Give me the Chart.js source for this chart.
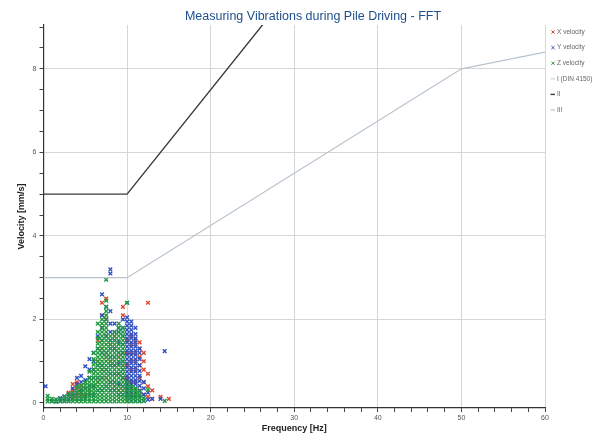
<!DOCTYPE html>
<html><head><meta charset="utf-8">
<script src="https://cdn.jsdelivr.net/npm/chart.js@4.4.0/dist/chart.umd.min.js"></script>
<style>html,body{margin:0;padding:0;background:#fff}#wrap{width:595px;height:437px}</style>
</head><body><div id="wrap"><canvas id="c" width="595" height="437"></canvas></div>
<script>
const chartTitle = 'Measuring Vibrations during Pile Driving - FFT';
const xAxisTitle = 'Frequency [Hz]';
const yAxisTitle = 'Velocity [mm/s]';
const seriesNames = ['X velocity', 'Y velocity', 'Z velocity', 'I (DIN 4150)', 'II', 'III'];
const xTickValues = [0,2,4,6,8,10,12,14,16,18,20,22,24,26,28,30,32,34,36,38,40,42,44,46,48,50,52,54,56,58,60];
const xTickLabels = [0,10,20,30,40,50,60];
const yTickValues = [0,0.5,1,1.5,2,2.5,3,3.5,4,4.5,5,5.5,6,6.5,7,7.5,8,8.5,9];
const yTickLabels = [0,2,4,6,8];

// FFT snapshot columns: [frequency Hz, velocities mm/s ...]
const xVelocity = [
  [3.0, 0.1,0.25],
  [3.5, 0.15,0.3,0.45],
  [4.0, 0.2,0.35,0.5],
  [4.5, 0.2,0.4],
  [5.0, 0.2,0.5],
  [5.5, 0.3,0.6],
  [6.0, 0.4,0.8],
  [6.5, 0.5,1.0,1.5],
  [7.0, 0.8,1.3,1.8,2.1,2.4],
  [7.5, 0.6,1.1,1.6,2.0,2.5],
  [8.0, 0.5,1.0,1.4],
  [8.5, 0.4,0.9,1.3,1.6],
  [9.0, 0.3,0.7,1.1],
  [9.5, 0.3,0.6,0.9,1.2,2.1,2.3],
  [10.0, 0.3,0.6,0.9,1.2,1.5],
  [10.5, 0.2,0.5,0.8,1.0,1.2,1.4,1.6],
  [11.0, 0.2,0.5,0.8,1.0,1.2,1.4,1.5],
  [11.5, 0.3,0.6,0.9,1.1,1.3,1.45],
  [12.0, 0.2,0.5,0.8,1.0,1.2],
  [12.5, 0.15,0.4,0.7,2.4],
  [13.0, 0.1,0.3],
  [14.0, 0.15],
  [15.0, 0.1]
];
const yVelocity = [
  [0.25, 0.4],
  [1.0, 0.05],
  [1.5, 0.03],
  [2.0, 0.05,0.12],
  [2.5, 0.05,0.15],
  [3.0, 0.08,0.2],
  [3.5, 0.1,0.2,0.35],
  [4.0, 0.1,0.25,0.45,0.6],
  [4.5, 0.1,0.3,0.5,0.65],
  [5.0, 0.15,0.35,0.55,0.88],
  [5.5, 0.2,0.4,0.6,0.8,1.05],
  [6.0, 0.2,0.4,0.6,0.8,1.0,1.2],
  [6.5, 0.3,0.6,0.9,1.3,1.6],
  [7.0, 0.3,0.6,0.9,1.2,1.5,1.8,2.1,2.6],
  [7.5, 0.4,0.8,1.2,1.6,2.0,2.3],
  [8.0, 0.3,0.5,0.7,0.9,1.1,1.3,1.5,1.7,1.9,2.2,3.1,3.2],
  [8.5, 0.3,0.5,0.7,0.9,1.1,1.3,1.5,1.7,1.9],
  [9.0, 0.2,0.45,0.7,0.95,1.2,1.45,1.7,1.8],
  [9.5, 0.2,0.4,0.6,0.8,1.0,1.2,1.4,1.6,1.8,2.0],
  [10.0, 0.05,0.15,0.25,0.35,0.45,0.55,0.65,0.75,0.85,0.95,1.05,1.15,1.25,1.35,1.45,1.55,1.65,1.75,1.85,1.95,2.05,2.4],
  [10.5, 0.05,0.15,0.25,0.35,0.45,0.55,0.65,0.75,0.85,0.95,1.05,1.15,1.25,1.35,1.45,1.55,1.65,1.75,1.85,1.95],
  [11.0, 0.05,0.15,0.25,0.35,0.45,0.55,0.65,0.75,0.85,0.95,1.05,1.15,1.25,1.35,1.45,1.55,1.65,1.8],
  [11.5, 0.05,0.17,0.29,0.41,0.53,0.65,0.77,0.9,1.05,1.2,1.3],
  [12.0, 0.05,0.2,0.35,0.5],
  [12.5, 0.08,0.25],
  [13.0, 0.1],
  [14.0, 0.1],
  [14.5, 1.24]
];
const zVelocity = [
  [0.5, 0.04,0.1,0.17],
  [1.0, 0.04,0.1],
  [1.5, 0.03,0.09],
  [2.0, 0.04,0.1],
  [2.5, 0.04,0.1,0.16],
  [3.0, 0.04,0.1,0.17,0.22],
  [3.5, 0.04,0.1,0.17,0.25],
  [4.0, 0.04,0.1,0.17,0.25,0.33,0.4],
  [4.5, 0.04,0.1,0.17,0.25,0.33,0.42],
  [5.0, 0.04,0.1,0.17,0.25,0.33,0.42,0.5],
  [5.5, 0.04,0.1,0.17,0.25,0.33,0.42,0.5,0.6,0.75],
  [6.0, 0.04,0.1,0.17,0.25,0.33,0.42,0.5,0.6,0.7,0.8,0.92,1.05,1.2],
  [6.5, 0.04,0.12,0.2,0.3,0.4,0.5,0.6,0.7,0.8,0.9,1.0,1.1,1.2,1.3,1.42,1.55,1.7,1.9],
  [7.0, 0.04,0.12,0.2,0.3,0.4,0.5,0.6,0.7,0.8,0.9,1.0,1.1,1.2,1.3,1.4,1.5,1.6,1.7,1.8,1.9,2.0],
  [7.5, 0.04,0.12,0.2,0.3,0.4,0.5,0.6,0.7,0.8,0.9,1.0,1.1,1.2,1.3,1.4,1.5,1.6,1.7,1.8,1.9,2.0,2.1,2.2,2.3,2.45,2.95],
  [8.0, 0.04,0.12,0.2,0.3,0.4,0.5,0.6,0.7,0.8,0.9,1.0,1.1,1.2,1.3,1.4,1.5,1.6],
  [8.5, 0.04,0.12,0.2,0.3,0.4,0.5,0.6,0.7,0.8,0.9,1.0,1.1,1.2,1.3,1.4,1.5,1.6,1.7],
  [9.0, 0.04,0.12,0.2,0.3,0.4,0.5,0.6,0.7,0.8,0.9,1.0,1.1,1.2,1.3,1.4,1.5,1.6,1.7,1.8,1.9],
  [9.5, 0.04,0.12,0.2,0.3,0.4,0.5,0.6,0.7,0.8,0.9,1.0,1.1,1.2,1.3,1.4,1.5,1.6,1.7,1.8],
  [10.0, 0.04,0.12,0.2,0.3,0.4,0.5,2.4],
  [10.5, 0.04,0.12,0.2,0.3,0.4],
  [11.0, 0.04,0.12,0.2,0.3,0.35],
  [11.5, 0.04,0.12,0.2,0.28],
  [12.0, 0.05,0.12],
  [12.5, 0.32],
  [14.5, 0.05]
];
// DIN 4150-3 reference lines [frequency, velocity]
const dinLineI = [[0,20],[10,20],[50,40],[60,42]];
const dinLineII = [[0,5],[10,5],[50,15],[60,16]];
const dinLineIII = [[0,3],[10,3],[50,8],[60,8.4]];

const seriesColors = ['#e0452e', '#2e50c0', '#1f9a3e', '#c9c9c9', '#3b3b3b', '#b8c2cc'];

function columnsToPoints(cols) {
  const pts = [];
  cols.forEach(c => { for (let i = 1; i < c.length; i++) pts.push({x: c[0], y: c[i]}); });
  return pts;
}
function pairsToPoints(p) { return p.map(a => ({x: a[0], y: a[1]})); }

const FONT = '"Liberation Sans", Arial, sans-serif';

const titlePlugin = {
  id: 'offsetTitle',
  afterDraw(chart) {
    const ctx = chart.ctx;
    ctx.save();
    ctx.font = '12.5px ' + FONT;
    ctx.fillStyle = '#1e4f8c';
    ctx.textAlign = 'center';
    ctx.textBaseline = 'middle';
    ctx.fillText(chartTitle, 313, 17);
    ctx.restore();
  }
};

const legendPlugin = {
  id: 'sideLegend',
  afterDraw(chart) {
    const ctx = chart.ctx;
    ctx.save();
    ctx.font = '6.5px ' + FONT;
    ctx.textBaseline = 'middle';
    chart.data.datasets.forEach((ds, i) => {
      const y = 32 + i * 15.6;
      const x = 553;
      ctx.strokeStyle = ds.borderColor;
      ctx.beginPath();
      if (i < 3) {
        ctx.lineWidth = 1;
        ctx.moveTo(x - 1.6, y - 1.6); ctx.lineTo(x + 1.6, y + 1.6);
        ctx.moveTo(x + 1.6, y - 1.6); ctx.lineTo(x - 1.6, y + 1.6);
      } else {
        ctx.lineWidth = ds.borderWidth;
        ctx.moveTo(x - 2.5, y); ctx.lineTo(x + 2, y);
      }
      ctx.stroke();
      ctx.fillStyle = '#666';
      ctx.fillText(ds.label, 557, y);
    });
    ctx.restore();
  }
};

const scatterDs = (i, cols, order) => ({
  label: seriesNames[i], data: columnsToPoints(cols), pointStyle: 'crossRot',
  pointRadius: 2.6, pointBorderWidth: 1.4, borderColor: seriesColors[i], backgroundColor: seriesColors[i],
  pointBorderColor: seriesColors[i], order: order
});
const lineDs = (i, pairs, w) => ({
  label: seriesNames[i], data: pairsToPoints(pairs), showLine: true, pointRadius: 0,
  borderColor: seriesColors[i], borderWidth: w, backgroundColor: seriesColors[i], order: 0
});

new Chart(document.getElementById('c'), {
  type: 'scatter',
  data: {
    datasets: [
      scatterDs(0, xVelocity, 3),
      scatterDs(1, yVelocity, 2),
      scatterDs(2, zVelocity, 1),
      lineDs(3, dinLineI, 1),
      lineDs(4, dinLineII, 1.4),
      lineDs(5, dinLineIII, 1.2)
    ]
  },
  plugins: [titlePlugin, legendPlugin],
  options: {
    responsive: false, animation: false,
    layout: {padding: {top: 25, right: 50, left: 0, bottom: 0}},
    plugins: {legend: {display: false}, title: {display: false}, tooltip: {enabled: false}},
    scales: {
      x: {
        type: 'linear', min: 0, max: 60,
        afterBuildTicks: s => { s.ticks = xTickValues.map(v => ({value: v})); },
        afterFit: s => { s.height = 29; },
        ticks: {autoSkip: false, maxRotation: 0, padding: 2, color: '#555',
          font: {family: FONT, size: 7},
          callback: v => xTickLabels.includes(v) ? String(v) : ''},
        grid: {
          color: c => (c.tick && xTickLabels.includes(c.tick.value) && c.tick.value !== 0) ? '#d6d6d6' : 'rgba(0,0,0,0)',
          tickColor: '#444', tickLength: 4, lineWidth: 1
        },
        border: {color: '#333', width: 1.2},
        title: {display: true, text: xAxisTitle, color: '#222', font: {family: FONT, size: 9, weight: 'bold'}, padding: {top: 0, bottom: 3}}
      },
      y: {
        type: 'linear', min: -0.12, max: 9.05,
        afterBuildTicks: s => { s.ticks = yTickValues.map(v => ({value: v})); },
        afterFit: s => { s.width = 43.5; },
        ticks: {autoSkip: false, padding: 3, color: '#555',
          font: {family: FONT, size: 7},
          callback: v => yTickLabels.includes(v) ? String(v) : ''},
        grid: {
          color: c => (c.tick && yTickLabels.includes(c.tick.value) && c.tick.value !== 0) ? '#d6d6d6' : 'rgba(0,0,0,0)',
          tickColor: '#444', tickLength: 4, lineWidth: 1
        },
        border: {color: '#333', width: 1.2},
        title: {display: true, text: yAxisTitle, color: '#222', font: {family: FONT, size: 9, weight: 'bold'}, padding: {top: 16, bottom: 0}}
      }
    }
  }
});
</script></body></html>
